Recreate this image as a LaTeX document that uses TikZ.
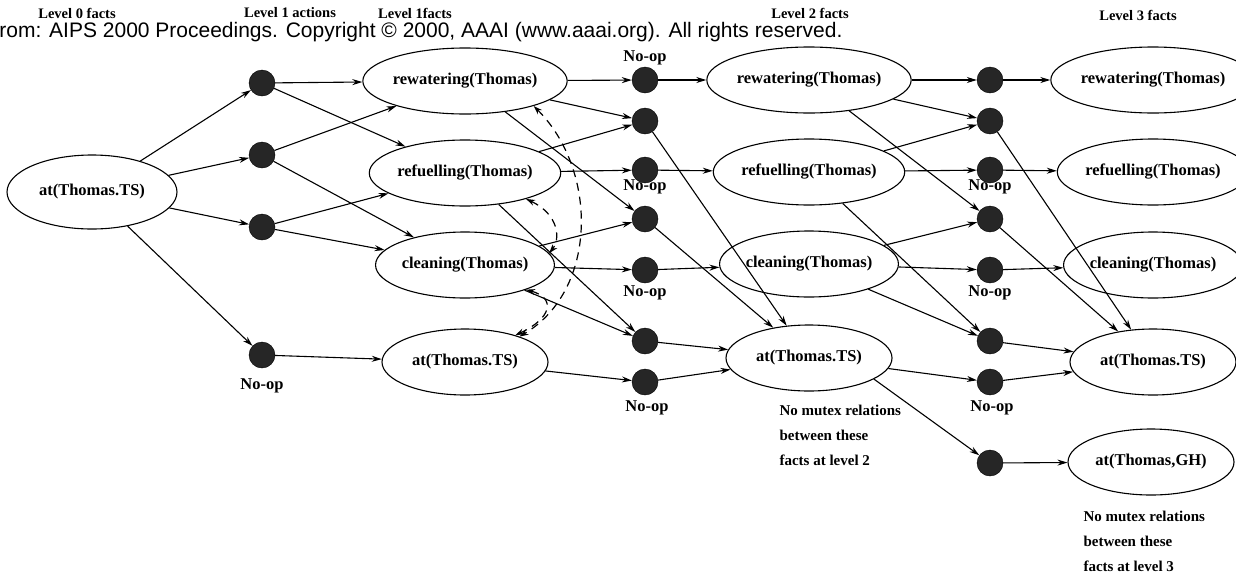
\documentclass[tikz,border=0pt]{standalone}
\usepackage{fontspec}
\setmainfont{Liberation Serif}
\newfontfamily\srcfont{Liberation Sans}
\usetikzlibrary{shapes.geometric}
\usetikzlibrary{arrows.meta}

\begin{document}
\begin{tikzpicture}[x=1pt,y=-1pt,
  fact/.style={ellipse,draw=black,line width=1.1pt,minimum width=166pt,minimum height=66pt,inner sep=0pt,font=\fontsize{16.5}{18}\selectfont\bfseries},
  act/.style={circle,draw=black,fill=black!85,minimum size=26pt,inner sep=0pt},
  lbl/.style={font=\fontsize{16.5}{18}\selectfont\bfseries},
  note/.style={align=left,anchor=north west,font=\fontsize{15}{25}\selectfont\bfseries},
  head/.style={font=\fontsize{14.5}{16}\selectfont\bfseries},
  link/.style={-{Stealth[length=10pt,width=6pt]},line width=1.1pt},
  mutex/.style={{Stealth[length=9pt,width=6pt]}-{Stealth[length=9pt,width=6pt]},line width=1.2pt,dash pattern=on 8pt off 6pt}]
\useasboundingbox (0,0) rectangle (1236,579);
\fill[white] (0,0) rectangle (1236,579);

% headings
\node[head] (h0) at (77,13) {Level 0 facts};
\node[head] (h1) at (290,13) {Level 1 actions};
\node[head] (h2) at (415,13) {Level 1facts};
\node[head] (h3) at (810,13) {Level 2 facts};
\node[head] (h4) at (1138,15) {Level 3 facts};
\node[font=\srcfont\fontsize{21}{23}\selectfont,anchor=east] (src) at (846,32) {From: AIPS 2000 Proceedings. Copyright © 2000, AAAI (www.aaai.org). All rights reserved.};

% level 0
\node[fact,minimum width=170pt,minimum height=74pt] (f0) at (92,192) {at(Thomas.TS)};

% level 1 actions
\node[act] (a1) at (262,83) {};
\node[act] (a2) at (262,155) {};
\node[act] (a3) at (262,227) {};
\node[act] (a4) at (262,355) {};
\node[lbl] (n0) at (262,386) {No-op};

% level 1 facts
\node[fact] (f1rew) at (465,81) {rewatering(Thomas)};
\node[fact] (f1ref) at (465,173) {refuelling(Thomas)};
\node[fact] (f1cle) at (465,265) {cleaning(Thomas)};
\node[fact] (f1at) at (465,362) {at(Thomas.TS)};

% level 2 actions
\foreach \i/\y in {1/80,2/121,3/170,4/219,5/270,6/341,7/382}
  \node[act] (b\i) at (645,\y) {};
\node[lbl] (n1) at (645,58) {No-op};
\node[lbl] (n2) at (645,187) {No-op};
\node[lbl] (n3) at (645,293) {No-op};
\node[lbl] (n4) at (647,408) {No-op};

% level 2 facts
\node[fact] (f2rew) at (809,80) {rewatering(Thomas)};
\node[fact] (f2ref) at (809,172) {refuelling(Thomas)};
\node[fact] (f2cle) at (809,264) {cleaning(Thomas)};
\node[fact] (f2at) at (809,358) {at(Thomas.TS)};
\node[note] (m2) at (776,402) {No mutex relations\\between these\\facts at level 2};

% level 3 actions
\foreach \i/\y in {1/80,2/121,3/170,4/219,5/270,6/341,7/382,8/463}
  \node[act] (c\i) at (990,\y) {};
\node[lbl] (n5) at (990,187) {No-op};
\node[lbl] (n6) at (990,293) {No-op};
\node[lbl] (n7) at (992,408) {No-op};

% level 3 facts
\node[fact] (f3rew) at (1153,80) {rewatering(Thomas)};
\node[fact] (f3ref) at (1153,172) {refuelling(Thomas)};
\node[fact] (f3cle) at (1153,265) {cleaning(Thomas)};
\node[fact] (f3at) at (1153,362) {at(Thomas.TS)};
\node[fact] (f3gh) at (1151,462) {at(Thomas,GH)};
\node[note] (m3) at (1080,508) {No mutex relations\\between these\\facts at level 3};

% preconditions and effects
\foreach \s/\t in {f0/a1,f0/a2,f0/a3,f0/a4,
    a1/f1rew,a1/f1ref,a2/f1rew,a2/f1cle,a3/f1ref,a3/f1cle,a4/f1at,
    f1rew/b1,f1rew/b2,f1rew/b4,f1ref/b2,f1ref/b3,f1ref/b6,f1cle/b4,f1cle/b5,f1cle/b6,f1at/b7,
    b1/f2rew,b2/f2at,b3/f2ref,b4/f2at,b5/f2cle,b6/f2at,b7/f2at,
    f2rew/c1,f2rew/c2,f2rew/c4,f2ref/c2,f2ref/c3,f2ref/c6,f2cle/c4,f2cle/c5,f2cle/c6,f2at/c7,
    c1/f3rew,c2/f3at,c3/f3ref,c4/f3at,c5/f3cle,c6/f3at,c7/f3at,c8/f3gh}
  \draw[link] (\s) -- (\t);
\draw[link] (f2at.-18) -- (c8);

% mutex relations at level 1
\draw[mutex] (f1rew.-20) .. controls (598,170) and (598,290) .. (f1at.25);
\draw[mutex] (f1ref.-23) .. controls (560,215) and (560,240) .. (f1cle.8);
\draw[mutex] (f1cle.-22) .. controls (556,298) and (552,318) .. (f1at.28);

\end{tikzpicture}
\end{document}
